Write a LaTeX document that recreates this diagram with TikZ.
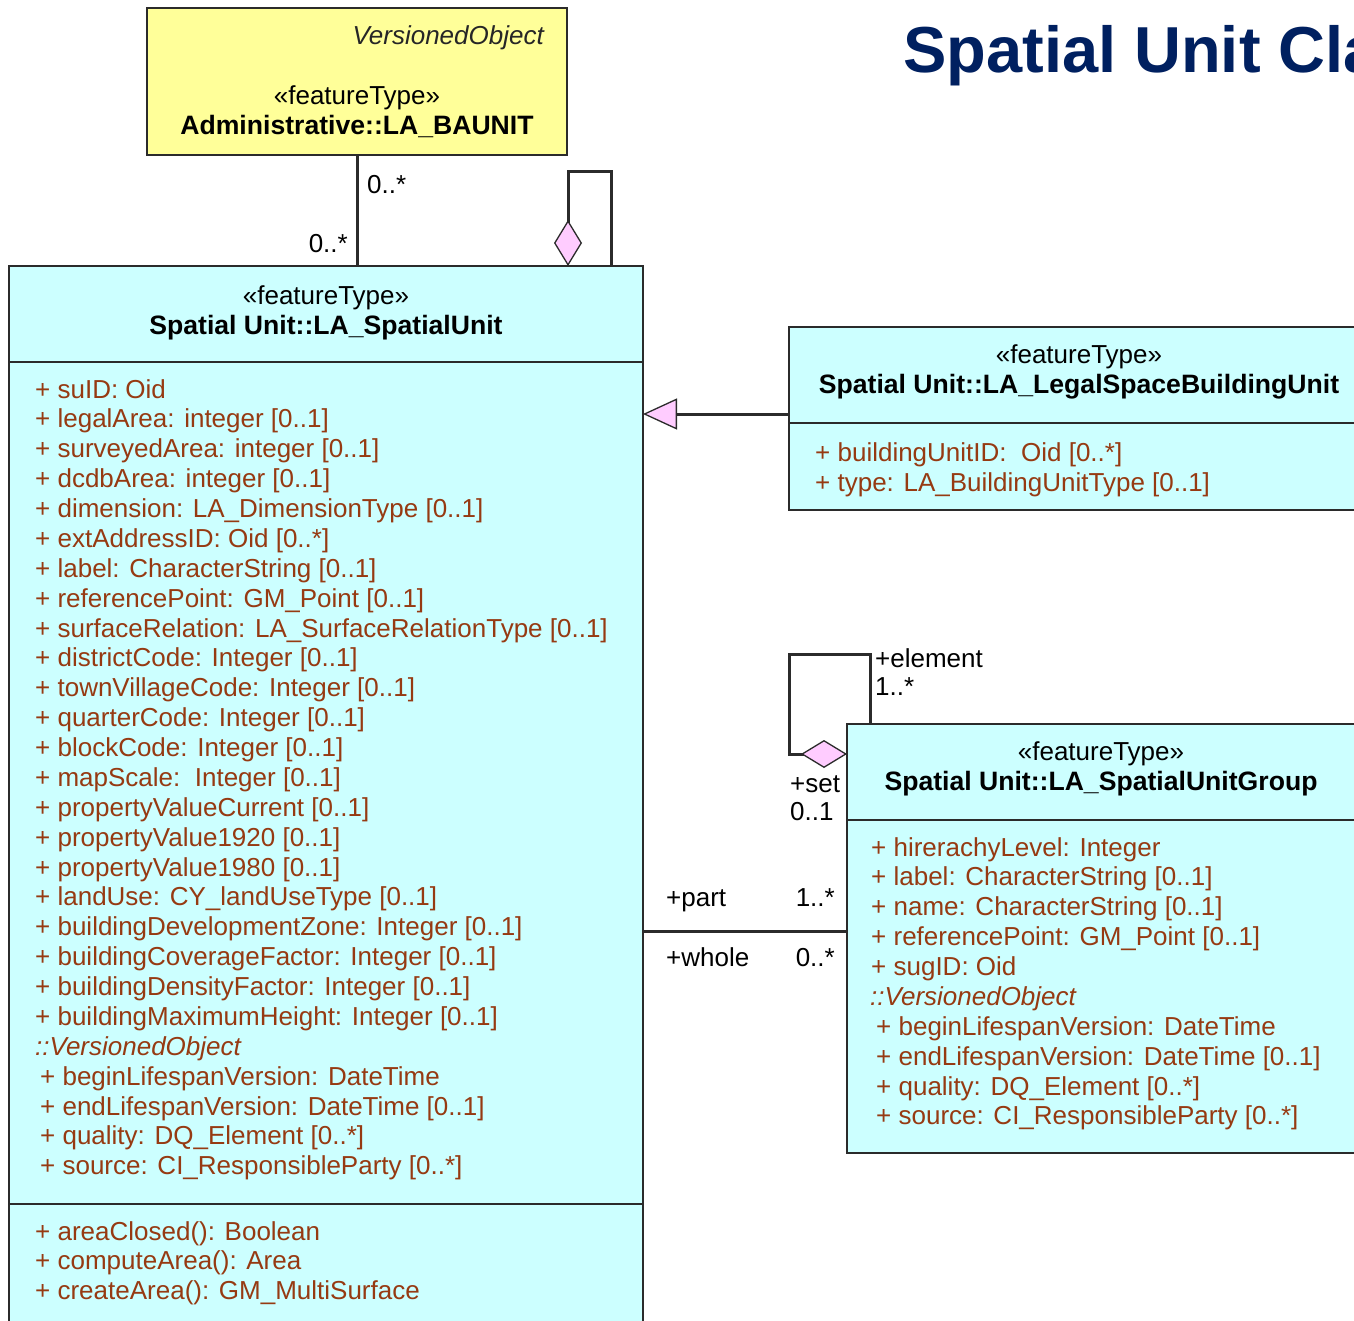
\documentclass[tikz,border=0pt]{standalone}
\usepackage{fontspec}
\setmainfont{Liberation Sans}
\usetikzlibrary{arrows.meta}
\definecolor{cyanfill}{HTML}{CCFFFF}
\definecolor{yellowfill}{HTML}{FFFF99}
\definecolor{diapink}{HTML}{FFCCFF}
\definecolor{attrcol}{RGB}{150,58,18}
\definecolor{boxline}{HTML}{2B2B2B}
\definecolor{titlenavy}{HTML}{002060}
\newcommand\umlfont{\fontsize{26}{30}\selectfont}
\newcommand\umlbold{\fontsize{26.6}{30}\selectfont\bfseries}
\begin{document}
\begin{tikzpicture}[x=1pt,y=-1pt,
  umlbox/.style={draw=boxline, line width=1.8pt, inner sep=0pt, outer sep=0pt, anchor=north west},
  sepline/.style={draw=boxline, line width=1.8pt},
  attr/.style={anchor=base west, inner sep=0pt, text=attrcol, font=\umlfont},
  stereo/.style={anchor=base, inner sep=0pt, text=black, font=\umlfont},
  cname/.style={anchor=base, inner sep=0pt, text=black, font=\umlbold},
  role/.style={anchor=base west, inner sep=0pt, text=black, font=\umlfont},
  rolee/.style={anchor=base east, inner sep=0pt, text=black, font=\umlfont},
  assoc/.style={draw=boxline, line width=3pt},
  aggtip/.style={-{Diamond[length=46pt,width=28pt,fill=diapink,line width=1.3pt]}},
  gentip/.style={-{Triangle[length=34pt,width=31pt,fill=diapink,line width=1.3pt]}}
]
\useasboundingbox (0,0) rectangle (1354,1320);
\begin{scope}
\clip (0,0) rectangle (1354,1320);
\fill[white] (0,0) rectangle (1354,1320);

% heading, running past the right edge
\node[anchor=base west, inner sep=0pt, text=titlenavy, font=\fontsize{65}{70}\selectfont\bfseries] (title) at (903,72) {Spatial Unit Cla};

% Administrative::LA_BAUNIT
\node[umlbox, fill=yellowfill, minimum width=420pt, minimum height=147pt] (baunit) at (147,8) {};
\node[anchor=base east, inner sep=0pt, font=\umlfont\itshape, text=black!85] (baunit-abs) at (544,44) {VersionedObject};
\node[stereo] (baunit-st) at (357,104) {«featureType»};
\node[cname] (baunit-nm) at (357,134) {Administrative::LA\_BAUNIT};

% Spatial Unit::LA_SpatialUnit
\node[umlbox, fill=cyanfill, minimum width=634pt, minimum height=1080pt] (su) at (9,266) {};
\draw[sepline] (su.west |- 0,362) -- (su.east |- 0,362);
\draw[sepline] (su.west |- 0,1204) -- (su.east |- 0,1204);
\node[stereo] (su-st) at (326,304) {«featureType»};
\node[cname] (su-nm) at (326,334) {Spatial Unit::LA\_SpatialUnit};
\foreach \t [count=\i from 0, evaluate=\i as \yy using 398+29.88*\i] in {
  {+ suID: Oid},
  {+ legalArea: integer [0..1]},
  {+ surveyedArea: integer [0..1]},
  {+ dcdbArea: integer [0..1]},
  {+ dimension: LA\_DimensionType [0..1]},
  {+ extAddressID: Oid [0..*]},
  {+ label: CharacterString [0..1]},
  {+ referencePoint: GM\_Point [0..1]},
  {+ surfaceRelation: LA\_SurfaceRelationType [0..1]},
  {+ districtCode: Integer [0..1]},
  {+ townVillageCode: Integer [0..1]},
  {+ quarterCode: Integer [0..1]},
  {+ blockCode: Integer [0..1]},
  {+ mapScale:\ \ Integer [0..1]},
  {+ propertyValueCurrent [0..1]},
  {+ propertyValue1920 [0..1]},
  {+ propertyValue1980 [0..1]},
  {+ landUse: CY\_landUseType [0..1]},
  {+ buildingDevelopmentZone: Integer [0..1]},
  {+ buildingCoverageFactor: Integer [0..1]},
  {+ buildingDensityFactor: Integer [0..1]},
  {+ buildingMaximumHeight: Integer [0..1]}}
  \node[attr] (su-a\i) at (35,\yy) {\t};
\node[attr, font=\umlfont\itshape] (su-vo) at (35,1055.4) {::VersionedObject};
\foreach \t [count=\i from 0, evaluate=\i as \yy using 1085.2+29.88*\i] in {
  {+ beginLifespanVersion: DateTime},
  {+ endLifespanVersion: DateTime [0..1]},
  {+ quality: DQ\_Element [0..*]},
  {+ source: CI\_ResponsibleParty [0..*]}}
  \node[attr] (su-v\i) at (40,\yy) {\t};
\foreach \t [count=\i from 0, evaluate=\i as \yy using 1240+29.9*\i] in {
  {+ areaClosed(): Boolean},
  {+ computeArea(): Area},
  {+ createArea(): GM\_MultiSurface}}
  \node[attr] (su-o\i) at (35,\yy) {\t};

% Spatial Unit::LA_LegalSpaceBuildingUnit
\node[umlbox, fill=cyanfill, minimum width=581pt, minimum height=183pt] (legal) at (789,327) {};
\draw[sepline] (legal.west |- 0,423) -- (legal.east |- 0,423);
\node[stereo] (legal-st) at (1079,363) {«featureType»};
\node[cname] (legal-nm) at (1079,393) {Spatial Unit::LA\_LegalSpaceBuildingUnit};
\node[attr] (legal-a0) at (815,461) {+ buildingUnitID:\ \ Oid [0..*]};
\node[attr] (legal-a1) at (815,491) {+ type: LA\_BuildingUnitType [0..1]};

% Spatial Unit::LA_SpatialUnitGroup
\node[umlbox, fill=cyanfill, minimum width=513pt, minimum height=429pt] (grp) at (847,724) {};
\draw[sepline] (grp.west |- 0,820) -- (grp.east |- 0,820);
\node[stereo] (grp-st) at (1101,760) {«featureType»};
\node[cname] (grp-nm) at (1101,790) {Spatial Unit::LA\_SpatialUnitGroup};
\foreach \t [count=\i from 0, evaluate=\i as \yy using 856+29.88*\i] in {
  {+ hirerachyLevel: Integer},
  {+ label: CharacterString [0..1]},
  {+ name: CharacterString [0..1]},
  {+ referencePoint: GM\_Point [0..1]},
  {+ sugID: Oid}}
  \node[attr] (grp-a\i) at (871,\yy) {\t};
\node[attr, font=\umlfont\itshape] (grp-vo) at (870,1005.4) {::VersionedObject};
\foreach \t [count=\i from 0, evaluate=\i as \yy using 1035.3+29.88*\i] in {
  {+ beginLifespanVersion: DateTime},
  {+ endLifespanVersion: DateTime [0..1]},
  {+ quality: DQ\_Element [0..*]},
  {+ source: CI\_ResponsibleParty [0..*]}}
  \node[attr] (grp-v\i) at (876,\yy) {\t};

% association LA_BAUNIT -- LA_SpatialUnit
\draw[assoc] (baunit.south) -- (baunit.south |- su.north);
\node[role] (m-bau-top) at (367,193) {0..*};
\node[rolee] (m-bau-bot) at (348,252) {0..*};

% self aggregation of LA_SpatialUnit
\draw[assoc, aggtip] (su.north -| 611,0) -- (611,171) -- (568,171) -- (su.north -| 568,0);

% generalisation LA_LegalSpaceBuildingUnit -> LA_SpatialUnit
\draw[assoc, gentip] (legal.west |- 0,414) -- (su.east |- 0,414);

% self aggregation of LA_SpatialUnitGroup
\draw[assoc, aggtip] (grp.north -| 870,0) -- (870,654) -- (789,654) -- (789,754) -- (grp.west |- 0,754);
\node[role] (r-elem) at (875,667) {+element};
\node[role] (m-elem) at (875,695) {1..*};
\node[role] (r-set) at (790,792) {+set};
\node[role] (m-set) at (790,820) {0..1};

% association part / whole
\draw[assoc] (su.east |- 0,931) -- (grp.west |- 0,931);
\node[role] (r-part) at (666,906) {+part};
\node[rolee] (m-part) at (835,906) {1..*};
\node[role] (r-whole) at (666,966) {+whole};
\node[rolee] (m-whole) at (835,966) {0..*};
\end{scope}
\end{tikzpicture}
\end{document}
